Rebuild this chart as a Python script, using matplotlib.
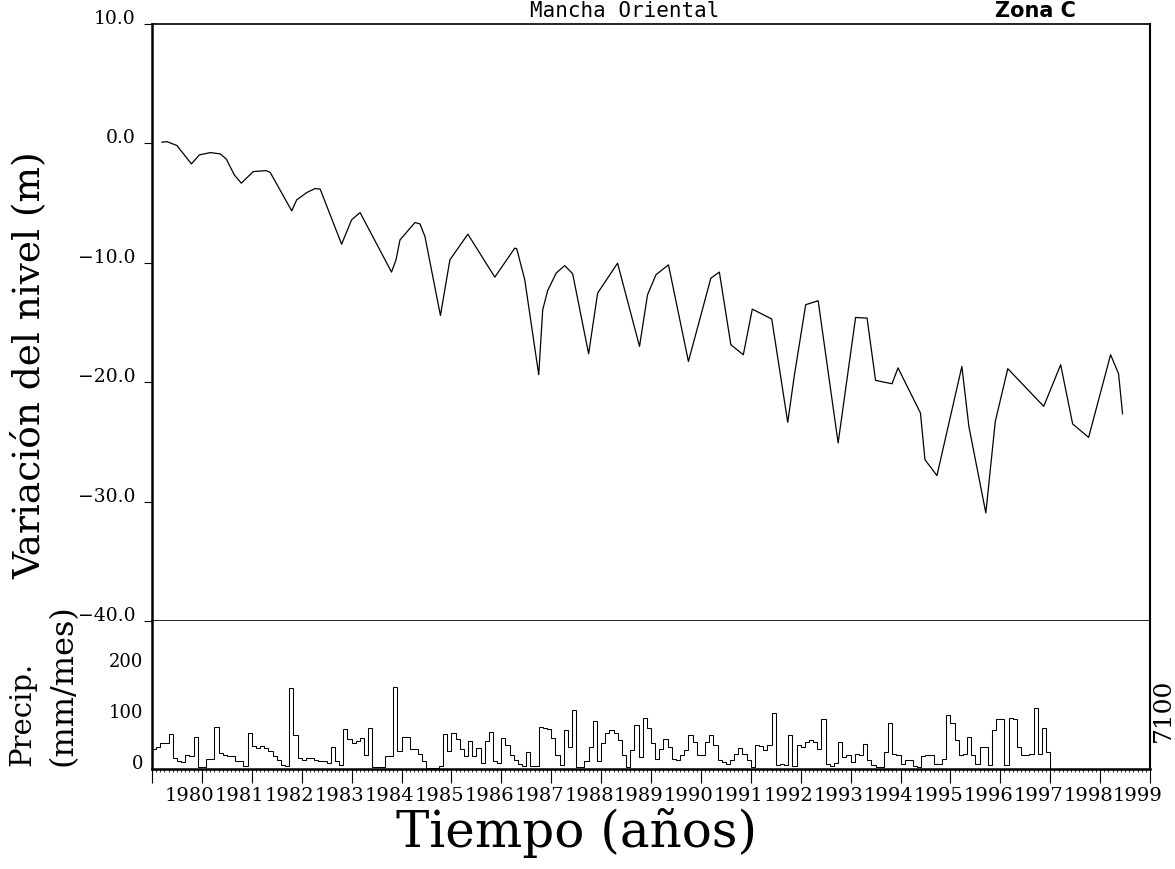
import matplotlib
matplotlib.use("Agg")
import matplotlib.pyplot as plt
from matplotlib.transforms import ScaledTranslation
from matplotlib.ticker import MultipleLocator
import numpy as np

# ---------------- data ----------------
level_years = [1979.20, 1979.30, 1979.50, 1979.79, 1979.95, 1980.17, 1980.37, 1980.49,
               1980.65, 1980.79, 1981.03, 1981.29, 1981.37, 1981.80, 1981.90, 1982.10,
               1982.27, 1982.37, 1982.80, 1983.00, 1983.17, 1983.80, 1983.89, 1983.97,
               1984.27, 1984.37, 1984.47, 1984.78, 1984.97, 1985.33, 1985.87, 1986.27,
               1986.31, 1986.47, 1986.75, 1986.83, 1986.93, 1987.10, 1987.27, 1987.43,
               1987.75, 1987.93, 1988.33, 1988.77, 1988.93, 1989.10, 1989.35, 1989.75,
               1990.20, 1990.37, 1990.60, 1990.85, 1991.03, 1991.42, 1991.74, 1991.87,
               1992.10, 1992.35, 1992.75, 1993.10, 1993.33, 1993.50, 1993.83, 1993.95,
               1994.40, 1994.49, 1994.73, 1995.23, 1995.37, 1995.71, 1995.90, 1996.15,
               1996.87, 1997.21, 1997.45, 1997.77, 1998.21, 1998.37, 1998.45]
level_values = [0.10, 0.15, -0.18, -1.72, -0.96, -0.77, -0.88, -1.32,
                -2.64, -3.33, -2.36, -2.28, -2.44, -5.65, -4.73, -4.12,
                -3.78, -3.83, -8.44, -6.40, -5.79, -10.78, -9.75, -8.08,
                -6.63, -6.74, -7.80, -14.41, -9.75, -7.60, -11.20, -8.77,
                -8.83, -11.42, -19.37, -13.93, -12.32, -10.86, -10.23, -10.92,
                -17.62, -12.54, -10.03, -17.0, -12.68, -11.00, -10.17, -18.26,
                -11.28, -10.78, -16.86, -17.70, -13.88, -14.71, -23.36, -19.51,
                -13.51, -13.18, -25.09, -14.58, -14.63, -19.85, -20.13, -18.80,
                -22.58, -26.49, -27.82, -18.68, -23.70, -30.95, -23.28, -18.87,
                -22.02, -18.54, -23.50, -24.62, -17.70, -19.29, -22.64]

precip_start_year = 1979.0   # monthly series, Jan 1979 .. Dec 1996
precip_mm = [
    40, 43, 51, 51, 68, 21, 15, 13, 27, 25, 63, 3,       # 1979
    3, 20, 20, 83, 31, 28, 25, 25, 15, 15, 5, 71,        # 1980
    45, 42, 45, 41, 35, 25, 18, 8, 5, 159, 66, 21,       # 1981
    18, 21, 21, 18, 16, 16, 11, 43, 15, 7, 78, 58,       # 1982
    51, 55, 61, 28, 81, 3, 3, 3, 25, 25, 161, 35,        # 1983
    63, 63, 40, 40, 30, 15, 1, 2, 2, 5, 68, 35,          # 1984
    71, 58, 40, 25, 55, 26, 41, 11, 55, 73, 15, 11,      # 1985
    61, 48, 28, 18, 9, 6, 33, 5, 5, 83, 80, 78,          # 1986
    61, 28, 8, 76, 43, 116, 3, 3, 15, 43, 95, 15,        # 1987
    50, 71, 77, 70, 57, 27, 3, 37, 87, 23, 99, 80,       # 1988
    50, 20, 40, 59, 43, 20, 17, 27, 37, 67, 53, 27,      # 1989
    27, 53, 67, 47, 17, 13, 10, 17, 30, 42, 30, 17,      # 1990
    3, 47, 45, 37, 47, 110, 7, 10, 7, 67, 5, 47,         # 1991
    43, 53, 57, 53, 40, 97, 10, 5, 11, 52, 23, 27,       # 1992
    13, 30, 27, 49, 17, 7, 3, 3, 33, 90, 30, 27,         # 1993
    10, 17, 17, 5, 3, 25, 27, 28, 10, 10, 20, 105,       # 1994
    90, 57, 27, 30, 63, 27, 10, 43, 43, 7, 77, 97,       # 1995
    97, 7, 100, 97, 43, 27, 27, 30, 119, 30, 80, 33,     # 1996
]

year_ticks = list(range(1979, 2000))
year_labels = [""] + [str(y) for y in range(1980, 2000)]
level_ticks = [10, 0, -10, -20, -30, -40]
level_labels = ["10.0", "0.0", "\u221210.0", "\u221220.0", "\u221230.0", "\u221240.0"]
precip_ticks = [0, 100, 200]
precip_labels = ["0", "100", "200"]

# ---------------- figure ----------------
W, H = 1175, 869
fig = plt.figure(figsize=(W / 100, H / 100), dpi=100)
serif = "DejaVu Serif"

x_left, x_right = 152, 1150
y_top, y_mid, y_bot = 24, 621, 769
L = x_left / W
Wd = (x_right - x_left) / W
ax1 = fig.add_axes([L, 1 - y_mid / H, Wd, (y_mid - y_top) / H])
ax2 = fig.add_axes([L, 1 - y_bot / H, Wd, (y_bot - y_mid) / H], sharex=ax1)

# upper panel: water level
ax1.plot(level_years, level_values, color="black", lw=0.9)
ax1.set_xlim(1979.0, 1999.0)
ax1.set_ylim(-40, 10)
ax1.set_yticks(level_ticks)
ax1.set_yticklabels(level_labels, family=serif, fontsize=13.5)
ax1.tick_params(axis="y", direction="out", length=6, width=0.8, pad=6)
ax1.tick_params(axis="x", which="both", bottom=False, top=False, labelbottom=False)
for lbl in ax1.get_yticklabels():
    lbl.set_va("baseline")
ax1.spines["left"].set_linewidth(1.8)
ax1.spines["right"].set_linewidth(1.5)
ax1.spines["top"].set_linewidth(1.2)
ax1.spines["bottom"].set_linewidth(1.2)

# lower panel: precipitation
edges = precip_start_year + np.arange(len(precip_mm) + 1) / 12.0
ax2.stairs(precip_mm, edges, color="black", lw=0.75, baseline=0)
ax2.set_ylim(0, 290)
ax2.set_yticks(precip_ticks)
ax2.set_yticklabels(precip_labels, family=serif, fontsize=13)
ax2.tick_params(axis="y", length=0, pad=6)
for lbl in ax2.get_yticklabels():
    lbl.set_va("baseline")
ax2.set_xticks(year_ticks)
ax2.set_xticklabels(year_labels, family=serif, fontsize=14)
ax2.xaxis.set_minor_locator(MultipleLocator(1 / 12))
ax2.tick_params(axis="x", which="major", direction="out", length=10, width=0.8, pad=3)
ax2.tick_params(axis="x", which="minor", direction="out", length=2.5, width=0.6)
offset = ScaledTranslation(-12 / 100, 0, fig.dpi_scale_trans)
for lbl in ax2.get_xticklabels():
    lbl.set_transform(lbl.get_transform() + offset)
ax2.spines["top"].set_visible(False)
ax2.spines["left"].set_linewidth(1.8)
ax2.spines["bottom"].set_linewidth(1.8)
ax2.spines["right"].set_linewidth(1.5)

# ---------------- texts ----------------
fig.text(625 / W, 1 - 17 / H, "Mancha Oriental", family="DejaVu Sans Mono",
         fontsize=15, ha="center", va="baseline")
fig.text(1035 / W, 1 - 17 / H, "Zona C", family="DejaVu Sans", fontweight="bold",
         fontsize=15, ha="center", va="baseline")
fig.text(30 / W, 1 - 365 / H, "Variación del nivel (m)", family=serif, fontsize=27,
         rotation=90, ha="center", va="center")
fig.text(22 / W, 1 - 766 / H, "Precip.", family=serif, fontsize=21,
         rotation=90, ha="center", va="bottom")
fig.text(63 / W, 1 - 766 / H, "(mm/mes)", family=serif, fontsize=23,
         rotation=90, ha="center", va="bottom")
fig.text(1163 / W, 1 - 710 / H, "7100", family=serif, fontsize=18,
         rotation=90, ha="center", va="center")
fig.text(577 / W, 1 - 833 / H, "Tiempo (años)", family=serif, fontsize=36,
         ha="center", va="center")

fig.savefig("out.png", dpi=100)
